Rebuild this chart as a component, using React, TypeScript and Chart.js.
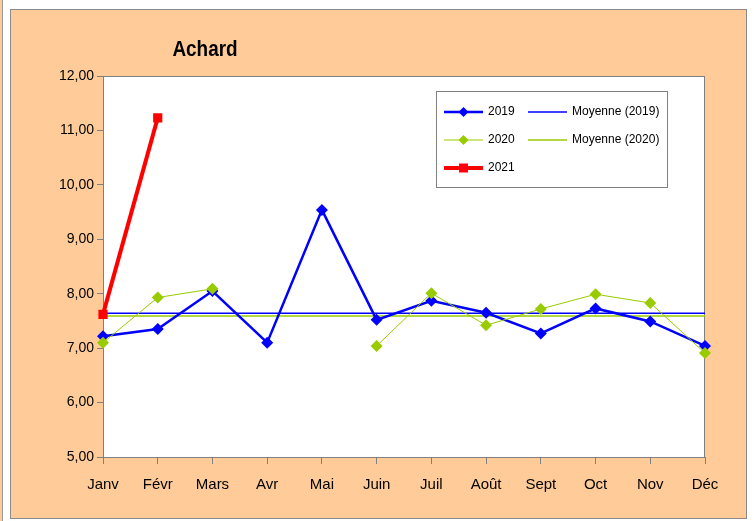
import React, { useEffect, useRef } from "react";
import { Chart, registerables } from "chart.js";

Chart.register(...registerables);

const months = ["Janv", "Févr", "Mars", "Avr", "Mai", "Juin", "Juil", "Août", "Sept", "Oct", "Nov", "Déc"];
const values2019 = [7.22, 7.35, 8.05, 7.1, 9.54, 7.52, 7.87, 7.65, 7.27, 7.73, 7.49, 7.04];
const values2020 = [7.1, 7.93, 8.09, null, null, 7.04, 8.01, 7.42, 7.72, 7.99, 7.83, 6.91];
const values2021 = [7.62, 11.23, null, null, null, null, null, null, null, null, null, null];
const mean2019 = 7.64;
const mean2020 = 7.59;
const yMin = 5;
const yMax = 12;
const titleText = "Achard";

const BLUE = "#0000FF";
const GREEN = "#99CC00";
const RED = "#FF0000";
const ORANGE = "#FFCC99";
const GRAY = "#808080";
const FONT = "'Liberation Sans', Arial, sans-serif";

const backgroundPlugin = {
  id: "bgPanel",
  beforeDraw(chart: any) {
    const ctx = chart.ctx;
    const { left, right, top, bottom } = chart.chartArea;
    ctx.save();
    ctx.fillStyle = "#FFFFFF";
    ctx.fillRect(0, 0, chart.width, chart.height);
    ctx.fillStyle = ORANGE;
    ctx.fillRect(0, 0, 2, chart.height);
    ctx.fillStyle = "#9a9a9a";
    ctx.fillRect(2, 0, 1, chart.height);
    ctx.fillStyle = ORANGE;
    ctx.fillRect(10, 9, 737, 510);
    ctx.strokeStyle = "#8a8a8a";
    ctx.lineWidth = 1;
    ctx.strokeRect(10.5, 9.5, 736, 509);
    ctx.fillStyle = "#FFFFFF";
    ctx.fillRect(left, top, right - left, bottom - top);
    ctx.strokeStyle = GRAY;
    ctx.strokeRect(left + 0.5, top + 0.5, right - left - 1, bottom - top);
    ctx.restore();
  },
};

function drawDiamond(ctx: any, x: number, y: number, r: number, color: string) {
  ctx.beginPath();
  ctx.moveTo(x, y - r);
  ctx.lineTo(x + r, y);
  ctx.lineTo(x, y + r);
  ctx.lineTo(x - r, y);
  ctx.closePath();
  ctx.fillStyle = color;
  ctx.fill();
}

const overlayPlugin = {
  id: "overlay",
  afterDraw(chart: any) {
    const ctx = chart.ctx;
    ctx.save();
    ctx.fillStyle = "#000000";
    ctx.font = `bold 22px ${FONT}`;
    ctx.textAlign = "center";
    ctx.textBaseline = "middle";
    ctx.translate(205, 50);
    ctx.scale(0.86, 1);
    ctx.fillText(titleText, 0, 0);
    ctx.restore();

    ctx.save();
    const bx = 436, by = 91, bw = 231, bh = 96;
    ctx.fillStyle = "#FFFFFF";
    ctx.fillRect(bx, by, bw, bh);
    ctx.strokeStyle = GRAY;
    ctx.lineWidth = 1;
    ctx.strokeRect(bx + 0.5, by + 0.5, bw, bh);

    const items = [
      { label: "2019", color: BLUE, width: 2.5, marker: "diamond", col: 0, row: 0 },
      { label: "2020", color: GREEN, width: 1, marker: "diamond", col: 0, row: 1 },
      { label: "2021", color: RED, width: 4, marker: "square", col: 0, row: 2 },
      { label: "Moyenne (2019)", color: BLUE, width: 1.5, marker: "none", col: 1, row: 0 },
      { label: "Moyenne (2020)", color: GREEN, width: 1.5, marker: "none", col: 1, row: 1 },
    ];
    const rowY = [112, 140, 168];
    const colX = [444, 528];
    ctx.font = `12px ${FONT}`;
    ctx.textAlign = "left";
    ctx.textBaseline = "middle";
    items.forEach((it) => {
      const y = rowY[it.row];
      const x0 = colX[it.col];
      const x1 = x0 + 39;
      ctx.strokeStyle = it.color;
      ctx.lineWidth = it.width;
      ctx.beginPath();
      ctx.moveTo(x0, y);
      ctx.lineTo(x1, y);
      ctx.stroke();
      const cx = (x0 + x1) / 2;
      if (it.marker === "diamond") drawDiamond(ctx, cx, y, 5, it.color);
      if (it.marker === "square") {
        ctx.fillStyle = it.color;
        ctx.fillRect(cx - 4.5, y - 4.5, 9, 9);
      }
      ctx.fillStyle = "#000000";
      ctx.fillText(it.label, x1 + 5, y);
    });
    ctx.restore();
  },
};

export default function App() {
  const ref = useRef<HTMLCanvasElement>(null);
  useEffect(() => {
    document.body.style.margin = "0";
    const canvas = ref.current!;
    const chart = new Chart(canvas, {
      type: "line",
      data: {
        labels: months,
        datasets: [
          {
            label: "2021",
            data: values2021,
            borderColor: RED,
            backgroundColor: RED,
            borderWidth: 4,
            pointStyle: "rect",
            pointRadius: 6.5,
            pointBorderWidth: 0,
            spanGaps: false,
            order: 0,
          },
          {
            label: "2020",
            data: values2020,
            borderColor: GREEN,
            backgroundColor: GREEN,
            borderWidth: 1,
            pointStyle: "rectRot",
            pointRadius: 6,
            pointBorderWidth: 0,
            spanGaps: false,
            order: 1,
          },
          {
            label: "2019",
            data: values2019,
            borderColor: BLUE,
            backgroundColor: BLUE,
            borderWidth: 2.5,
            pointStyle: "rectRot",
            pointRadius: 6,
            pointBorderWidth: 0,
            order: 2,
          },
          {
            label: "Moyenne (2019)",
            data: months.map(() => mean2019),
            borderColor: BLUE,
            borderWidth: 1.5,
            pointRadius: 0,
            order: 3,
          },
          {
            label: "Moyenne (2020)",
            data: months.map(() => mean2020),
            borderColor: GREEN,
            borderWidth: 1.5,
            pointRadius: 0,
            order: 4,
          },
        ],
      },
      options: {
        responsive: false,
        animation: false,
        events: [],
        layout: { padding: { top: 76, right: 49, left: 0, bottom: 0 } },
        plugins: {
          legend: { display: false },
          title: { display: false },
          tooltip: { enabled: false },
        },
        elements: { line: { tension: 0 } },
        scales: {
          x: {
            type: "category",
            offset: false,
            afterFit: (s: any) => { s.height = 64; },
            grid: { drawOnChartArea: false, drawTicks: true, tickLength: 7, color: GRAY },
            border: { display: true, color: GRAY, width: 1 },
            ticks: {
              color: "#000000",
              font: { family: FONT, size: 15 },
              padding: 12,
              maxRotation: 0,
              autoSkip: false,
            },
          },
          y: {
            min: yMin,
            max: yMax,
            afterFit: (s: any) => { s.width = 103; },
            grid: { drawOnChartArea: false, drawTicks: true, tickLength: 6, color: GRAY },
            border: { display: true, color: GRAY, width: 1 },
            ticks: {
              stepSize: 1,
              color: "#000000",
              font: { family: FONT, size: 14 },
              padding: 3,
              callback: (v: any) => Number(v).toFixed(2).replace(".", ","),
            },
          },
        },
      },
      plugins: [backgroundPlugin, overlayPlugin],
    });
    return () => chart.destroy();
  }, []);
  return (
    <div style={{ position: "fixed", left: 0, top: 0, width: 754, height: 521 }}>
      <canvas ref={ref} width={754} height={521} style={{ display: "block", width: 754, height: 521 }} />
    </div>
  );
}
